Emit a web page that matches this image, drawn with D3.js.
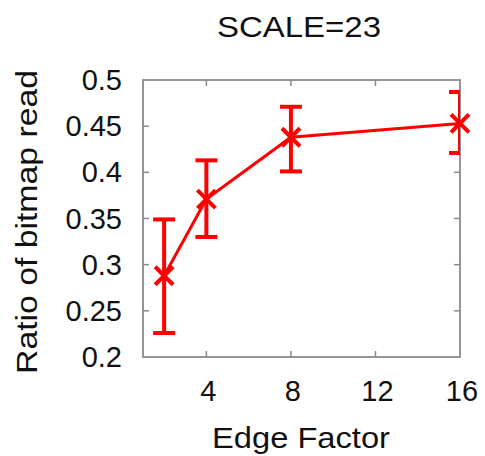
<!DOCTYPE html>
<html>
<head>
<meta charset="utf-8">
<script src="https://cdn.jsdelivr.net/npm/d3@7"></script>
<style>
  body { margin: 0; background: #fff; }
  text { font-family: "Liberation Sans", Arial, Helvetica, sans-serif; fill: #111; }
</style>
</head>
<body>
<svg id="chart"></svg>
<script>
// edge factor on x, ratio of bitmap read on y (mean, low, high)
let edge_factors = [2, 4, 8, 16];
let ratio_mean = [0.288, 0.371, 0.438, 0.453];
let ratio_low = [0.226, 0.33, 0.401, 0.421];
let ratio_high = [0.349, 0.413, 0.471, 0.487];

let x_ticks = [4, 8, 12, 16];
let y_ticks = [0.2, 0.25, 0.3, 0.35, 0.4, 0.45, 0.5];
let y_tick_labels = ["0.2", "0.25", "0.3", "0.35", "0.4", "0.45", "0.5"];

let title_text = "SCALE=23";
let x_label = "Edge Factor";
let y_label = "Ratio of bitmap read";

let width = 485;
let height = 456;
let plot_left = 143, plot_right = 460, plot_top = 80, plot_bottom = 357;

let svg = d3.select("#chart").attr("width", width).attr("height", height);

let x = d3.scaleLinear().domain([1, 16]).range([plot_left, plot_right]);
let y = d3.scaleLinear().domain([0.2, 0.5]).range([plot_bottom, plot_top]);

let points = edge_factors.map(function(e, i) {
  return { e: e, v: ratio_mean[i], lo: ratio_low[i], hi: ratio_high[i] };
});

let red = "#ff0000";
let grey = "#8a8a8a";

// clip for error bars (gnuplot cuts them at the border)
svg.append("clipPath").attr("id", "plotclip")
  .append("rect")
  .attr("x", plot_left).attr("y", plot_top)
  .attr("width", plot_right - plot_left).attr("height", plot_bottom - plot_top);

// tick marks, mirrored on all four sides
let tick_len = 6;
let ticks = svg.append("g").attr("stroke", grey).attr("stroke-width", 1.5);
y_ticks.slice(1, -1).forEach(function(t) {
  ticks.append("line").attr("x1", plot_left).attr("x2", plot_left + tick_len)
    .attr("y1", y(t)).attr("y2", y(t));
  ticks.append("line").attr("x1", plot_right).attr("x2", plot_right - tick_len)
    .attr("y1", y(t)).attr("y2", y(t));
});
x_ticks.slice(0, -1).forEach(function(t) {
  ticks.append("line").attr("x1", x(t)).attr("x2", x(t))
    .attr("y1", plot_bottom).attr("y2", plot_bottom - tick_len);
  ticks.append("line").attr("x1", x(t)).attr("x2", x(t))
    .attr("y1", plot_top).attr("y2", plot_top + tick_len);
});

// frame
svg.append("rect")
  .attr("x", plot_left).attr("y", plot_top)
  .attr("width", plot_right - plot_left).attr("height", plot_bottom - plot_top)
  .attr("fill", "none").attr("stroke", grey).attr("stroke-width", 1.8);

// tick labels
svg.append("g").selectAll("text")
  .data(y_ticks)
  .join("text")
  .attr("x", 122)
  .attr("y", function(d) { return y(d) + 10; })
  .attr("text-anchor", "end")
  .style("font-size", "29px")
  .text(function(d, i) { return y_tick_labels[i]; });

svg.append("g").selectAll("text")
  .data(x_ticks)
  .join("text")
  .attr("x", function(d) { return x(d) + 2; })
  .attr("y", 401)
  .attr("text-anchor", "middle")
  .style("font-size", "29px")
  .text(function(d) { return d; });

// titles
svg.append("text")
  .attr("x", 299).attr("y", 37)
  .attr("text-anchor", "middle")
  .attr("textLength", 164)
  .attr("lengthAdjust", "spacingAndGlyphs")
  .style("font-size", "30px")
  .text(title_text);

svg.append("text")
  .attr("x", 301).attr("y", 448)
  .attr("text-anchor", "middle")
  .attr("textLength", 178)
  .attr("lengthAdjust", "spacingAndGlyphs")
  .style("font-size", "30px")
  .text(x_label);

svg.append("text")
  .attr("transform", "translate(37," + 222 + ") rotate(-90)")
  .attr("text-anchor", "middle")
  .attr("textLength", 304)
  .attr("lengthAdjust", "spacingAndGlyphs")
  .style("font-size", "30px")
  .text(y_label);

// error bars
let cap = 11;
let bars = svg.append("g")
  .attr("clip-path", "url(#plotclip)")
  .attr("stroke", red)
  .attr("stroke-width", 4)
  .attr("fill", "none");
points.forEach(function(p) {
  bars.append("line")
    .attr("x1", x(p.e)).attr("x2", x(p.e))
    .attr("y1", y(p.lo)).attr("y2", y(p.hi));
  bars.append("line")
    .attr("x1", x(p.e) - cap).attr("x2", x(p.e) + cap)
    .attr("y1", y(p.lo)).attr("y2", y(p.lo));
  bars.append("line")
    .attr("x1", x(p.e) - cap).attr("x2", x(p.e) + cap)
    .attr("y1", y(p.hi)).attr("y2", y(p.hi));
});

// line
let line = d3.line()
  .x(function(d) { return x(d.e); })
  .y(function(d) { return y(d.v); });

svg.append("path")
  .datum(points)
  .attr("d", line)
  .attr("fill", "none")
  .attr("stroke", red)
  .attr("stroke-width", 3);

// x markers
let m = 9;
svg.append("g")
  .attr("stroke", red)
  .attr("stroke-width", 4)
  .selectAll("path")
  .data(points)
  .join("path")
  .attr("d", function(p) {
    let cx = x(p.e), cy = y(p.v);
    return "M" + (cx - m) + "," + (cy - m) + "L" + (cx + m) + "," + (cy + m) +
      "M" + (cx - m) + "," + (cy + m) + "L" + (cx + m) + "," + (cy - m);
  });
</script>
</body>
</html>
